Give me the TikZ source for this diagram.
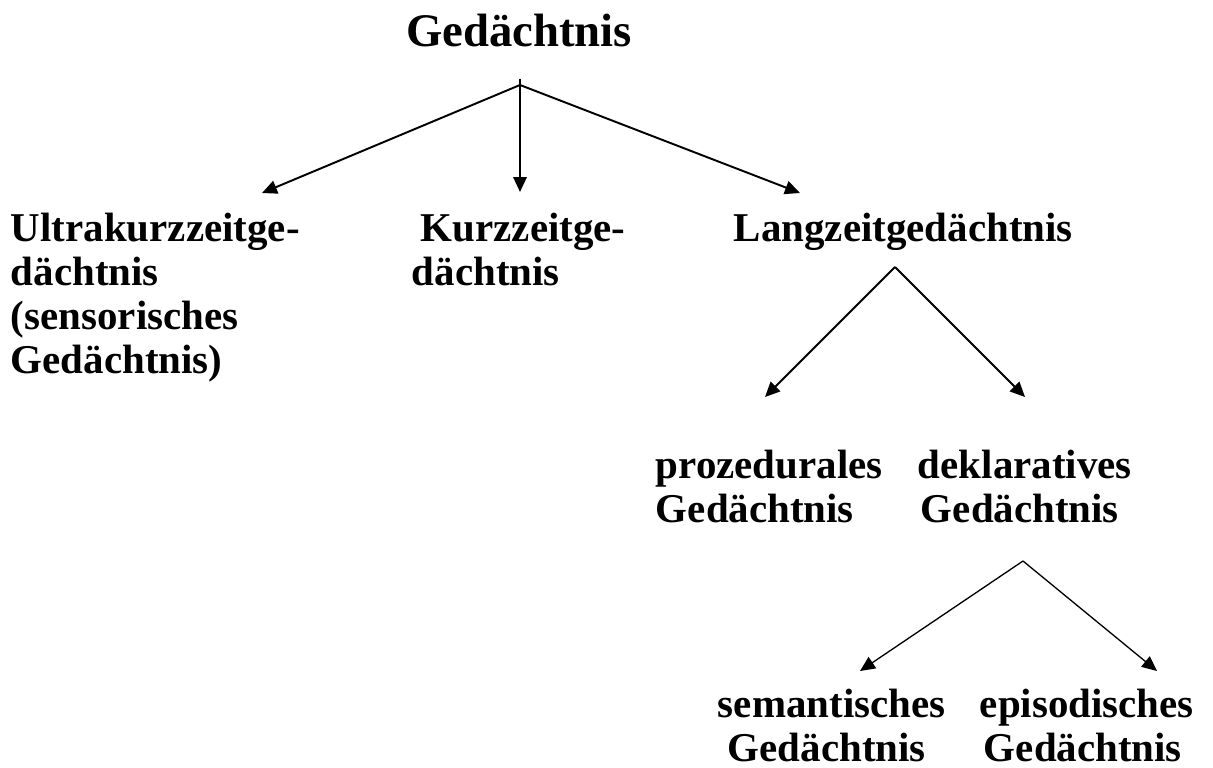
\documentclass[tikz,border=0pt]{standalone}
\usepackage{fontspec}
\setmainfont{Liberation Serif}
\usetikzlibrary{arrows.meta}
\tikzset{
  titel/.style={font=\bfseries\fontsize{26.6}{28}\selectfont, anchor=base, inner sep=0pt},
  begriff/.style={font=\bfseries\fontsize{23.3}{25}\selectfont, align=left, anchor=north west, inner sep=0pt},
  pfeil/.style={-{Triangle[length=3mm, width=2.7mm]}},
}

\begin{document}
\begin{tikzpicture}[x=0.02cm, y=-0.02cm, line width=1.1pt] % 1 Einheit = 1 Pixel der Vorlage
  \useasboundingbox (0,0) rectangle (1213,767); % Rand wie Vorlage

  \node[titel] (ged) at (519,47) {Gedächtnis}; % Wurzel
  \node[begriff] (ukz) at (10,212) {Ultrakurzzeitge-\\dächtnis\\(sensorisches\\Gedächtnis)};
  \node[begriff] (kz) at (411,212) {\hspace*{0.18cm}Kurzzeitge-\\dächtnis};
  \node[begriff] (lzg) at (733,212) {Langzeitgedächtnis};
  \node[begriff] (proz) at (655,449) {prozedurales\\Gedächtnis};
  \node[begriff] (dekl) at (917,449) {deklaratives\\\hspace*{0.06cm}Gedächtnis};
  \node[begriff] (sem) at (717,688) {semantisches\\\hspace*{0.2cm}Gedächtnis};
  \node[begriff] (epi) at (979,688) {episodisches\\\hspace*{0.08cm}Gedächtnis};

  % Verzweigungen und Pfeilspitzen
  \coordinate (k1) at (520,85);   \coordinate (k1oben) at (520,79);
  \coordinate (ukzin) at (262,193); \coordinate (kzin) at (520,192); \coordinate (lzgin) at (800,193);
  \coordinate (k2) at (895,267);
  \coordinate (prozin) at (765,397); \coordinate (deklin) at (1025,397);
  \coordinate (k3) at (1023,561);
  \coordinate (semin) at (860,671); \coordinate (epiin) at (1157,671);

  \draw[pfeil] (k1) -- (ukzin);
  \draw[pfeil] (k1oben) -- (kzin); % mit kleinem Ueberstand
  \draw[pfeil] (k1) -- (lzgin);
  \draw[pfeil] (k2) -- (prozin);
  \draw[pfeil] (k2) -- (deklin);
  \draw[pfeil, line width=0.75pt] (k3) -- (semin); % duenner
  \draw[pfeil, line width=0.75pt] (k3) -- (epiin);
\end{tikzpicture}
\end{document}
